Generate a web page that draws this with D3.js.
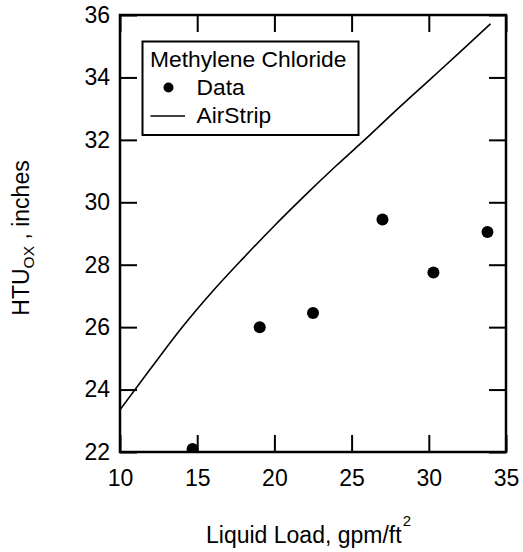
<!DOCTYPE html>
<html>
<head>
<meta charset="utf-8">
<script src="https://cdn.jsdelivr.net/npm/d3@7"></script>
<style>
  html, body { margin: 0; padding: 0; background: #fff; }
  svg { display: block; }
  text { font-family: "Liberation Sans", Arial, sans-serif; fill: #000; }
</style>
</head>
<body>
<div id="chart"></div>
<script>
// ---- data ----
const dataX = [14.7, 19.05, 22.5, 27.0, 30.3, 33.8];
const dataY = [22.1, 26.0, 26.45, 29.45, 27.75, 29.05];

const airX = [10, 12, 14, 16, 18, 20, 22, 24, 26, 28, 30, 32, 34];
const airY = [23.35, 24.68, 25.98, 27.15, 28.22, 29.25, 30.23, 31.17, 32.07, 33.0, 33.9, 34.8, 35.72];

const xTicks = [10, 15, 20, 25, 30, 35];
const yTicks = [22, 24, 26, 28, 30, 32, 34, 36];

const legendTitle = "Methylene Chloride";
const legendLabels = ["Data", "AirStrip"];

// ---- layout ----
const W = 523, H = 552;
const m = { left: 120, top: 15, right: 17, bottom: 100 };
const iw = W - m.left - m.right;   // 386
const ih = H - m.top - m.bottom;   // 437
const TICK = 17;
const FS = 23;

const svg = d3.select("#chart").append("svg").attr("width", W).attr("height", H);
const g = svg.append("g").attr("transform", `translate(${m.left},${m.top})`);

const x = d3.scaleLinear().domain([10, 35]).range([0, iw]);
const y = d3.scaleLinear().domain([22, 36]).range([ih, 0]);

g.append("clipPath").attr("id", "clip").append("rect")
  .attr("x", 0).attr("y", 0).attr("width", iw).attr("height", ih);

// axes
const axB = g.append("g").attr("transform", `translate(0,${ih})`)
  .call(d3.axisBottom(x).tickValues(xTicks).tickSizeInner(-TICK).tickSizeOuter(0).tickPadding(18).tickFormat(d3.format("d")));
const axL = g.append("g")
  .call(d3.axisLeft(y).tickValues(yTicks).tickSizeInner(-TICK).tickSizeOuter(0).tickPadding(10).tickFormat(d3.format("d")));
const axT = g.append("g")
  .call(d3.axisTop(x).tickValues(xTicks).tickSizeInner(-TICK).tickSizeOuter(0).tickFormat(""));
const axR = g.append("g").attr("transform", `translate(${iw},0)`)
  .call(d3.axisRight(y).tickValues(yTicks).tickSizeInner(-TICK).tickSizeOuter(0).tickFormat(""));

[axB, axL, axT, axR].forEach(a => {
  a.select(".domain").remove();
  a.selectAll(".tick line").attr("stroke", "#000").attr("stroke-width", 2);
  a.selectAll("text").attr("font-size", FS).attr("font-family", "Liberation Sans, Arial, sans-serif").attr("fill", "#000");
});

// AirStrip line
const line = d3.line().x((d, i) => x(airX[i])).y((d, i) => y(airY[i])).curve(d3.curveMonotoneX);
g.append("path").datum(airY).attr("d", line)
  .attr("fill", "none").attr("stroke", "#000").attr("stroke-width", 1.6)
  .attr("clip-path", "url(#clip)");

// data points
g.append("g").attr("clip-path", "url(#clip)")
  .selectAll("circle").data(dataX).join("circle")
  .attr("cx", (d, i) => x(dataX[i]))
  .attr("cy", (d, i) => y(dataY[i]))
  .attr("r", 6).attr("fill", "#000");

// frame
g.append("rect").attr("x", 0).attr("y", 0).attr("width", iw).attr("height", ih)
  .attr("fill", "none").attr("stroke", "#000").attr("stroke-width", 2.5);

// legend
const lg = svg.append("g");
lg.append("rect").attr("x", 142.5).attr("y", 41.5).attr("width", 216).attr("height", 93.5)
  .attr("fill", "#fff").attr("stroke", "#000").attr("stroke-width", 2);
lg.append("text").attr("x", 150).attr("y", 66.5).attr("font-size", 22.8).text(legendTitle);
lg.append("circle").attr("cx", 168.5).attr("cy", 87.5).attr("r", 5).attr("fill", "#000");
lg.append("text").attr("x", 196.5).attr("y", 94.5).attr("font-size", 22.8).text(legendLabels[0]);
lg.append("line").attr("x1", 150.5).attr("x2", 185).attr("y1", 116).attr("y2", 116)
  .attr("stroke", "#000").attr("stroke-width", 1.6);
lg.append("text").attr("x", 196.5).attr("y", 122.5).attr("font-size", 22.8).text(legendLabels[1]);

// x title
const xt = svg.append("text").attr("x", 206).attr("y", 543).attr("font-size", FS);
xt.append("tspan").text("Liquid Load, gpm/ft");
xt.append("tspan").attr("font-size", 15).attr("dy", -17).attr("dx", 1).text("2");

// y title
const yt = svg.append("text")
  .attr("transform", "translate(29,238) rotate(-90)")
  .attr("text-anchor", "middle").attr("font-size", FS);
yt.append("tspan").text("HTU");
yt.append("tspan").attr("font-size", 15.5).attr("dy", 5).text("OX");
yt.append("tspan").attr("dy", -5).text(" , inches");
</script>
</body>
</html>
